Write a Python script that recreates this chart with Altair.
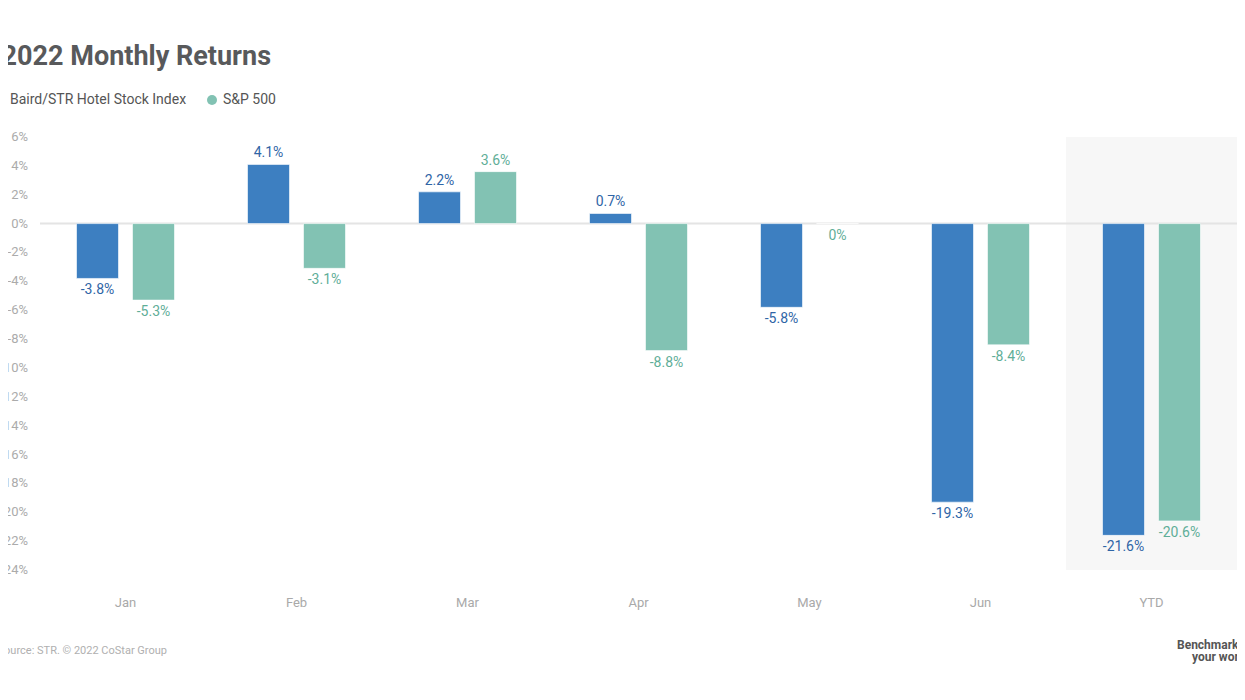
import altair as alt
import pandas as pd

months = ["Jan", "Feb", "Mar", "Apr", "May", "Jun", "YTD"]
series_names = ["Baird/STR Hotel Stock Index", "S&P 500"]
baird = [-3.8, 4.1, 2.2, 0.7, -5.8, -19.3, -21.6]
sp500 = [-5.3, -3.1, 3.6, -8.8, 0, -8.4, -20.6]
y_ticks = list(range(-24, 7, 2))
title_text = "2022 Monthly Returns"
source_text = "Source: STR. © 2022 CoStar Group"
logo_lines = ["Benchmarking", "your world"]

rows = []
for m, b, s in zip(months, baird, sp500):
    rows.append({"month": m, "series": series_names[0], "value": b, "label": f"{b:g}%"})
    rows.append({"month": m, "series": series_names[1], "value": s, "label": f"{s:g}%"})
df = pd.DataFrame(rows)
tick_df = pd.DataFrame({"tick": y_ticks, "tick_label": [f"{t}%" for t in y_ticks]})

bar_colors = ["#3d7fc1", "#82c2b3"]
label_colors = ["#2f65a6", "#5fae98"]
FONT = "Roboto"

x_scale = alt.Scale(paddingInner=0.427, paddingOuter=0.2135)
y_scale = alt.Scale(domain=[-24, 6], nice=False, zero=False)

x_axis = alt.Axis(title=None, labelFontSize=13, labelColor="#a9a9a9",
                  labelFont=FONT, ticks=False, tickSize=0, domain=False,
                  labelPadding=26, labelAngle=0, bandPosition=0.5, grid=False)

# YTD background band (first layer: carries the x axis)
bg_df = pd.DataFrame({"month": ["YTD"], "top": [6], "bottom": [-24]})
bg = alt.Chart(bg_df).mark_bar(color="#f7f7f7", width=alt.RelativeBandSize(1.745)).encode(
    x=alt.X("month:N", sort=months, scale=x_scale, axis=x_axis),
    y=alt.Y("top:Q", scale=y_scale, axis=None),
    y2="bottom:Q",
)

# y tick labels
ylabels = alt.Chart(tick_df).mark_text(
    align="right", baseline="middle", fontSize=13, font=FONT, color="#ababab"
).encode(
    x=alt.value(-12),
    y=alt.Y("tick:Q", scale=y_scale),
    text="tick_label:N",
)

zero = alt.Chart(pd.DataFrame({"z": [0]})).mark_rule(color="#e4e4e4", strokeWidth=2).encode(
    y=alt.Y("z:Q", scale=y_scale)
)

bars = alt.Chart(df).mark_bar(stroke="white", strokeWidth=0.6).encode(
    x=alt.X("month:N", sort=months, scale=x_scale),
    xOffset=alt.XOffset("series:N", sort=series_names,
                        scale=alt.Scale(paddingInner=0.25, paddingOuter=0)),
    y=alt.Y("value:Q", scale=y_scale),
    color=alt.Color("series:N", sort=series_names,
                    scale=alt.Scale(domain=series_names, range=bar_colors),
                    legend=alt.Legend(title=None, orient="none", legendX=-48, legendY=-44,
                                      direction="horizontal", symbolType="circle",
                                      symbolSize=100, symbolStrokeWidth=0,
                                      labelFontSize=14, labelColor="#555555",
                                      labelFont=FONT, columnPadding=18, labelOffset=4,
                                      labelLimit=400)),
)

label_color = alt.condition(alt.datum.series == series_names[0],
                            alt.value(label_colors[0]), alt.value(label_colors[1]))

labels_pos = alt.Chart(df).transform_filter(alt.datum.value > 0).mark_text(
    baseline="bottom", dy=-4, fontSize=14, font=FONT
).encode(
    x=alt.X("month:N", sort=months, scale=x_scale),
    xOffset=alt.XOffset("series:N", sort=series_names),
    y=alt.Y("value:Q", scale=y_scale),
    text="label:N",
    color=label_color,
)
labels_neg = alt.Chart(df).transform_filter(alt.datum.value <= 0).mark_text(
    baseline="top", dy=5, fontSize=14, font=FONT
).encode(
    x=alt.X("month:N", sort=months, scale=x_scale),
    xOffset=alt.XOffset("series:N", sort=series_names),
    y=alt.Y("value:Q", scale=y_scale),
    text="label:N",
    color=label_color,
)

title = alt.Chart(pd.DataFrame({"t": [title_text]})).mark_text(
    align="right", baseline="alphabetic", fontSize=27, fontWeight="bold",
    font=FONT, color="#58595b"
).encode(text="t:N", x=alt.value(231), y=alt.value(-72))

source = alt.Chart(pd.DataFrame({"t": [source_text]})).mark_text(
    align="right", baseline="middle", fontSize=11, font=FONT, color="#b0b0b0"
).encode(text="t:N", x=alt.value(127), y=alt.value(514))

logo1 = alt.Chart(pd.DataFrame({"t": [logo_lines[0]]})).mark_text(
    align="left", baseline="middle", fontSize=12, fontWeight="bold", font=FONT, color="#555555"
).encode(text="t:N", x=alt.value(1137), y=alt.value(508))
logo2 = alt.Chart(pd.DataFrame({"t": [logo_lines[1]]})).mark_text(
    align="left", baseline="middle", fontSize=12, fontWeight="bold", font=FONT, color="#555555"
).encode(text="t:N", x=alt.value(1152), y=alt.value(520))

chart = alt.layer(bg, ylabels, zero, bars, labels_pos, labels_neg, title, source,
                  logo1, logo2).properties(
    width=1197, height=433,
    autosize=alt.AutoSizeParams(type="none"),
    padding={"left": 32, "top": 129, "right": 0, "bottom": 100},
    background="white",
).configure_view(stroke=None)

chart.save("out.html", embed_options={"renderer": "svg", "actions": False})
